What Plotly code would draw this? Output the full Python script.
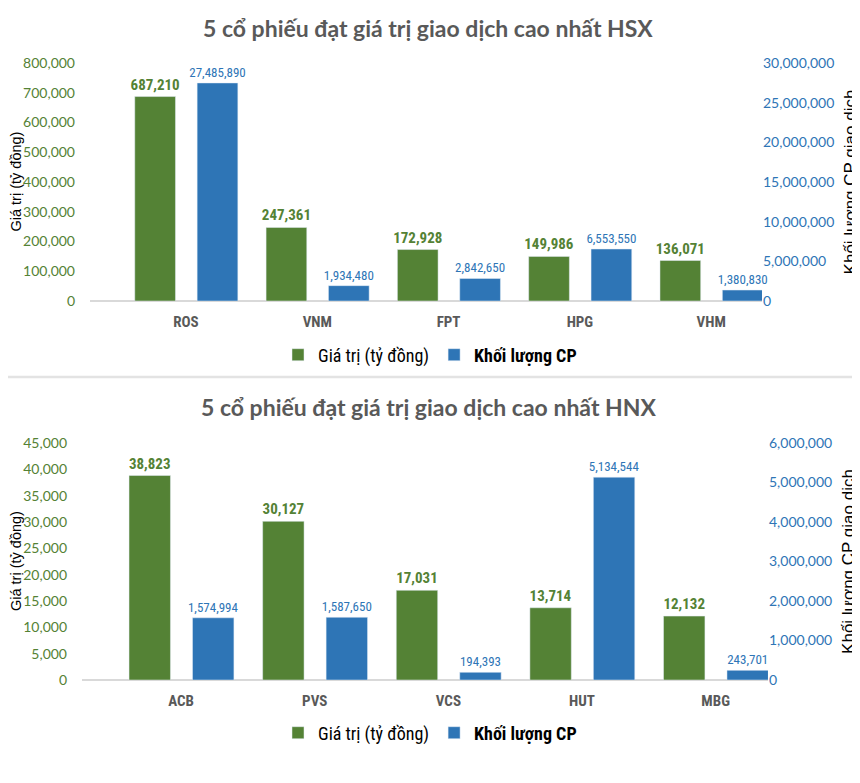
import plotly.graph_objects as go

# ---- data ----
hsx_codes = ["ROS", "VNM", "FPT", "HPG", "VHM"]
hsx_value = [687210, 247361, 172928, 149986, 136071]
hsx_volume = [27485890, 1934480, 2842650, 6553550, 1380830]

hnx_codes = ["ACB", "PVS", "VCS", "HUT", "MBG"]
hnx_value = [38823, 30127, 17031, 13714, 12132]
hnx_volume = [1574994, 1587650, 194393, 5134544, 243701]

title_hsx = "5 cổ phiếu đạt giá trị giao dịch cao nhất HSX"
title_hnx = "5 cổ phiếu đạt giá trị giao dịch cao nhất HNX"
name_value = "Giá trị (tỷ đồng)"
name_volume = "<b>Khối lượng CP</b>"
ytitle_left = "Giá trị (tỷ đồng)"
ytitle_right = "Khối lượng CP giao dịch"

GREEN = "#548235"
BLUE = "#2E75B6"
GRAY = "#595959"
NARROW = "Liberation Sans Narrow, Arial Narrow, Roboto Condensed, Roboto, sans-serif"
TICKF = "Lato, Open Sans, sans-serif"
W, H = 860, 783
OFF = 8  # page body margin offset


def px_x(p):
    return (p - OFF) / W


def px_y(p):
    return 1 - (p - OFF) / H


pos = list(range(5))

fig = go.Figure()


def add_panel(values, volumes, xa, ya_l, ya_r, legend):
    fig.add_trace(go.Bar(
        x=pos, y=values, name=name_value, marker_color=GREEN,
        offset=-0.39, width=0.31, xaxis=xa, yaxis=ya_l, legend=legend,
        text=[f"{v:,}" for v in values], textposition="outside", constraintext="none",
        textfont=dict(family=NARROW, size=15, color=GREEN, weight="bold"),
        cliponaxis=False, hoverinfo="x+y"))
    fig.add_trace(go.Bar(
        x=pos, y=volumes, name=name_volume, marker_color=BLUE,
        offset=0.085, width=0.31, xaxis=xa, yaxis=ya_r, legend=legend,
        text=[f"{v:,}" for v in volumes], textposition="outside", constraintext="none",
        textfont=dict(family=NARROW, size=13, color=BLUE),
        cliponaxis=False, hoverinfo="x+y"))


add_panel(hsx_value, hsx_volume, "x", "y", "y2", "legend")
add_panel(hnx_value, hnx_volume, "x2", "y3", "y4", "legend2")

xcommon = dict(showgrid=False, zeroline=False, showline=False, ticks="",
               tickvals=pos, tickfont=dict(family=NARROW, size=15, color=GRAY, weight="bold"),
               ticklabelstandoff=10, fixedrange=True)

ylcommon = dict(showgrid=False, zeroline=True, zerolinecolor="#D9D9D9", zerolinewidth=1.5,
                tickformat=",d", tickfont=dict(family=TICKF, size=14, color=GREEN),
                ticklabelstandoff=14, showline=False, ticks="")
yrcommon = dict(showgrid=False, zeroline=False, side="right",
                tickformat=",d", tickfont=dict(family=TICKF, size=14, color=BLUE),
                ticklabelstandoff=0, showline=False, ticks="",
                title=dict(text=ytitle_right, standoff=10,
                           font=dict(family="Liberation Sans, Arial, sans-serif", size=17, color="#000000")))

legend_common = dict(orientation="h", x=px_x(430), xanchor="center", yanchor="middle",
                     font=dict(family=NARROW, size=18, color="#000000"),
                     itemwidth=30, bgcolor="rgba(0,0,0,0)", traceorder="normal")

fig.update_layout(
    width=W, height=H,
    margin=dict(l=0, r=0, t=0, b=0, autoexpand=False),
    paper_bgcolor="white", plot_bgcolor="white",
    barmode="overlay",
    xaxis=dict(domain=[px_x(90), px_x(762)], range=[-0.731, 4.387],
               ticktext=hsx_codes, anchor="y", **xcommon),
    yaxis=dict(domain=[px_y(301), px_y(63)], range=[0, 800000], dtick=100000,
               anchor="x", **ylcommon),
    yaxis2=dict(domain=[px_y(301), px_y(63)], range=[0, 30000000], dtick=5000000,
                overlaying="y", anchor="x", **yrcommon),
    xaxis2=dict(domain=[px_x(82), px_x(768)], range=[-0.742, 4.392],
                ticktext=hnx_codes, anchor="y3", **xcommon),
    yaxis3=dict(domain=[px_y(680), px_y(443)], range=[0, 45000], dtick=5000,
                anchor="x2", **ylcommon),
    yaxis4=dict(domain=[px_y(680), px_y(443)], range=[0, 6000000], dtick=1000000,
                overlaying="y3", anchor="x2", **yrcommon),
    legend=dict(y=px_y(355), **legend_common),
    legend2=dict(y=px_y(733), **legend_common),
    showlegend=True,
)

annotations = []
for t, yp in [(title_hsx, 28), (title_hnx, 407)]:
    annotations.append(dict(text=t, x=px_x(428), y=px_y(yp), xref="paper", yref="paper",
                            xanchor="center", yanchor="middle", showarrow=False,
                            font=dict(family="Lato, Open Sans, sans-serif", size=23,
                                      color=GRAY, weight="bold")))
for yc in [(63 + 301) / 2, (443 + 680) / 2]:
    annotations.append(dict(text=ytitle_left, x=px_x(15.5), y=px_y(yc), xref="paper", yref="paper",
                            xanchor="center", yanchor="middle", textangle=-90, showarrow=False,
                            font=dict(family="Liberation Sans, Arial, sans-serif", size=14.5, color="#000000")))
fig.update_layout(annotations=annotations)

fig.add_shape(type="line", xref="paper", yref="paper", x0=0, x1=1,
              y0=px_y(377), y1=px_y(377), line=dict(color="#E3E3E3", width=2.5))

fig.write_html("out.html")
